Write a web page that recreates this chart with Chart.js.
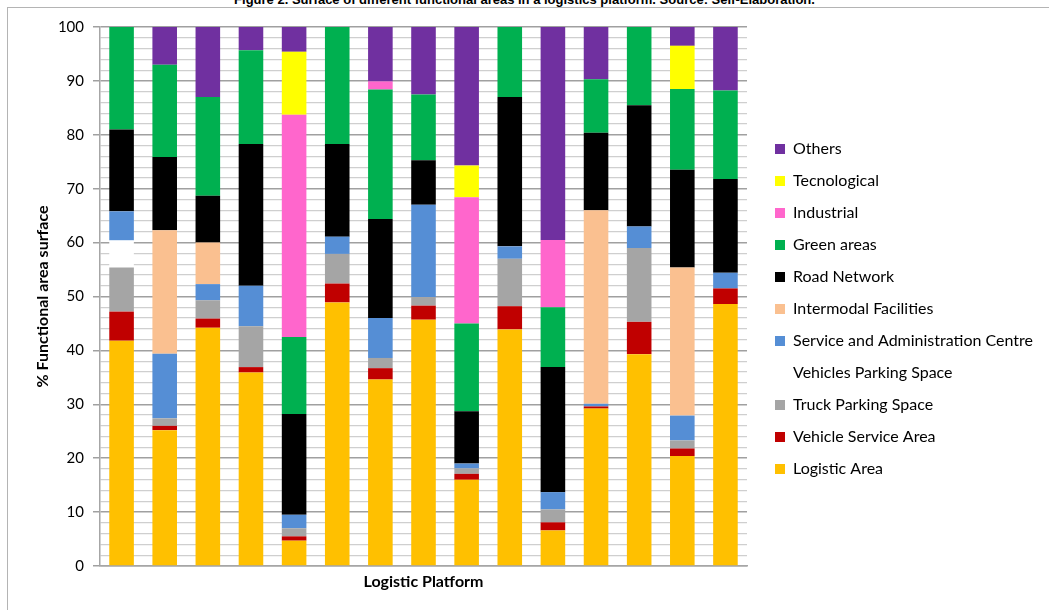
<!DOCTYPE html>
<html>
<head>
<meta charset="utf-8">
<script src="https://cdn.jsdelivr.net/npm/chart.js@4.4.1/dist/chart.umd.min.js"></script>
<style>
  html, body { margin: 0; padding: 0; background: #fff; overflow: hidden; }
  #frame { position: absolute; left: 7px; top: 7px; width: 1100px; height: 700px; border: 1px solid #b4b4b4; }
  #caption { position: absolute; left: 0; top: -8px; width: 1049px; text-align: center;
             font: bold 13px "Liberation Sans", sans-serif; line-height: 15px; color: #000; }
  #wrap { position: absolute; left: 0; top: 0; width: 1049px; height: 610px; }
</style>
</head>
<body>
<div id="frame"></div>
<div id="caption">Figure 2. Surface of different functional areas in a logistics platform. Source: Self-Elaboration.</div>
<div id="wrap"><canvas id="areaChart"></canvas></div>
<script>
// one value per logistic platform (15 platforms), % of surface
const platforms = ['1', '2', '3', '4', '5', '6', '7', '8', '9', '10', '11', '12', '13', '14', '15'];

const logisticArea   = [41.8, 25.2, 44.2, 35.9, 4.7, 48.9, 34.6, 45.7, 16.0, 43.9, 6.6, 29.2, 39.3, 20.4, 48.6];
const vehicleService = [5.4, 0.8, 1.7, 1.0, 0.8, 3.5, 2.1, 2.6, 1.1, 4.3, 1.5, 0.4, 6.0, 1.4, 2.9];
const truckParking   = [8.2, 1.4, 3.4, 7.6, 1.5, 5.5, 1.9, 1.6, 1.0, 8.8, 2.4, 0, 13.7, 1.5, 0];
const vehicleParking = [5.0, 0, 0, 0, 0, 0, 0, 0, 0, 0, 0, 0, 0, 0, 0];
const serviceAdmin   = [5.4, 12.0, 3.0, 7.5, 2.5, 3.2, 7.4, 17.1, 0.9, 2.3, 3.2, 0.5, 4.0, 4.6, 2.9];
const intermodal     = [0, 22.9, 7.7, 0, 0, 0, 0, 0, 0, 0, 0, 35.9, 0, 27.5, 0];
const roadNetwork    = [15.2, 13.6, 8.7, 26.3, 18.7, 17.2, 18.4, 8.3, 9.7, 27.7, 23.2, 14.4, 22.5, 18.1, 17.4];
const greenAreas     = [19.0, 17.1, 18.3, 17.4, 14.3, 21.7, 24.0, 12.2, 16.3, 13.0, 11.1, 9.9, 14.5, 15.0, 16.4];
const industrial     = [0, 0, 0, 0, 41.2, 0, 1.5, 0, 23.4, 0, 12.5, 0, 0, 0, 0];
const tecnological   = [0, 0, 0, 0, 11.7, 0, 0, 0, 5.9, 0, 0, 0, 0, 8.0, 0];
const others         = [0, 7.0, 13.0, 4.3, 4.6, 0, 10.1, 12.5, 25.7, 0, 39.5, 9.7, 0, 3.5, 11.8];

const yTicks = [0, 10, 20, 30, 40, 50, 60, 70, 80, 90, 100];

const series = [
  ['Logistic Area', logisticArea, '#FFC000'],
  ['Vehicle Service Area', vehicleService, '#C00000'],
  ['Truck Parking Space', truckParking, '#A5A5A5'],
  ['Vehicles Parking Space', vehicleParking, '#FFFFFF'],
  ['Service and Administration Centre', serviceAdmin, '#558ED5'],
  ['Intermodal Facilities', intermodal, '#FAC090'],
  ['Road Network', roadNetwork, '#000000'],
  ['Green areas', greenAreas, '#00B050'],
  ['Industrial', industrial, '#FF66CC'],
  ['Tecnological', tecnological, '#FFFF00'],
  ['Others', others, '#7030A0']
];

const isMajor = v => yTicks.includes(v);

new Chart(document.getElementById('areaChart'), {
  type: 'bar',
  data: {
    labels: platforms,
    datasets: series.map(([label, data, color]) => ({
      label: label,
      data: data,
      backgroundColor: color,
      borderWidth: 0,
      barPercentage: 0.57,
      categoryPercentage: 1
    }))
  },
  options: {
    responsive: true,
    maintainAspectRatio: false,
    animation: false,
    layout: { padding: { left: 30, top: 27, right: 6, bottom: 19 } },
    plugins: {
      tooltip: { enabled: false },
      legend: {
        position: 'right',
        reverse: true,
        maxWidth: 400,
        labels: {
          boxWidth: 10,
          boxHeight: 10,
          padding: 16,
          color: '#000',
          font: { family: 'Lato', size: 16 }
        }
      }
    },
    scales: {
      x: {
        stacked: true,
        grid: { display: false },
        border: { color: '#a6a6a6', width: 1.5 },
        ticks: { display: false },
        title: {
          display: true,
          text: 'Logistic Platform',
          color: '#000',
          font: { family: 'Lato', size: 16, weight: 'bold' },
          padding: { top: 0, bottom: 0 }
        },
        afterFit: s => { s.height = 25; }
      },
      y: {
        stacked: true,
        min: 0,
        max: 100,
        ticks: {
          stepSize: 2,
          autoSkip: false,
          padding: 9,
          color: '#000',
          font: { family: 'Lato', size: 15 },
          callback: v => (isMajor(v) ? v : '')
        },
        grid: {
          color: c => (isMajor(c.tick.value) ? '#a0a0a0' : '#cfcfcf'),
          lineWidth: c => (isMajor(c.tick.value) ? 1.5 : 1.2),
          tickLength: 7,
          tickColor: c => (isMajor(c.tick.value) ? '#a0a0a0' : 'rgba(0,0,0,0)')
        },
        border: { color: '#a6a6a6', width: 1.5 },
        title: {
          display: true,
          text: '% Functional area surface',
          color: '#000',
          font: { family: 'Lato', size: 16, weight: 'bold' },
          padding: { top: 3, bottom: 3 }
        },
        afterFit: s => { s.width = 70; }
      },
      gap: {
        position: 'right',
        display: true,
        grid: { display: false },
        border: { display: false },
        ticks: { display: false },
        afterFit: s => { s.width = 12; }
      }
    }
  }
});
</script>
</body>
</html>
